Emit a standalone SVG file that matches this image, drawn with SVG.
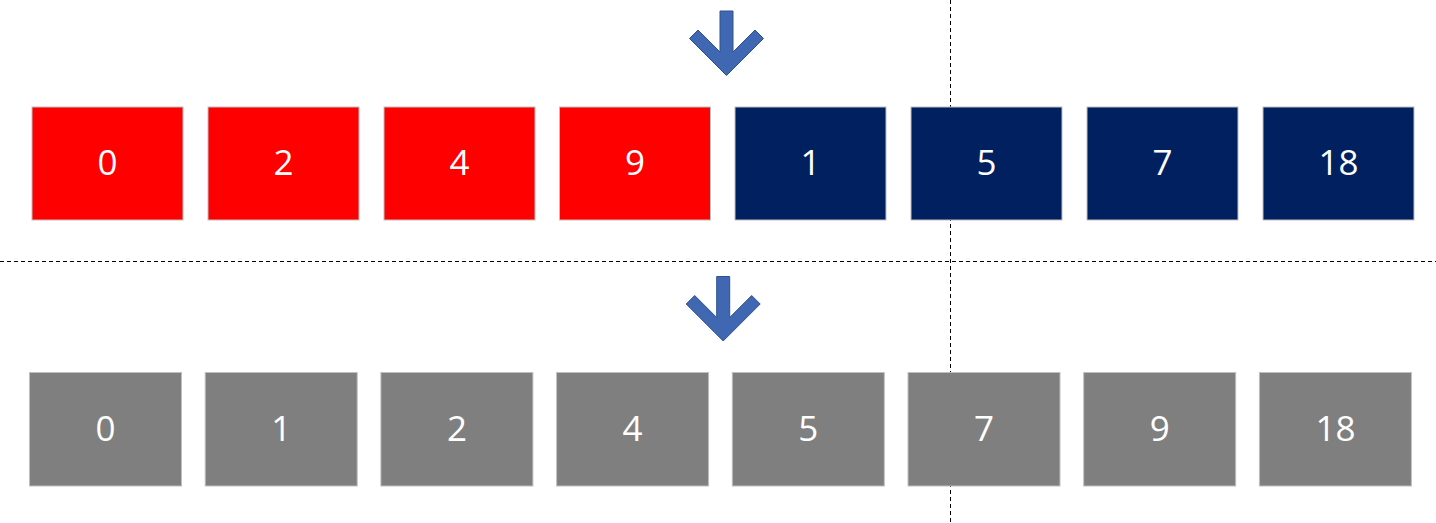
<svg xmlns="http://www.w3.org/2000/svg" width="1436" height="523" viewBox="0 0 1436 523">
<defs>
<style>
.dash{stroke:#000;stroke-width:1;stroke-dasharray:4 3;fill:none}
.box{stroke:#BFBFBF;stroke-width:1}
.red{fill:#FF0000}
.navy{fill:#002060}
.gray{fill:#7F7F7F}
.lbl{font-family:"Open Sans","Liberation Sans",sans-serif;font-size:35px;fill:#FFFFFF;text-anchor:middle}
.arrow{fill:#4068B2;stroke:#2F528F;stroke-width:1}
</style>
<polygon id="down" points="720,11 733,11 733,52 755,30 763.5,38.5 726.5,75.5 689.5,38.5 698,30 720,52"/>
</defs>
<g id="connectors">
<line class="dash" x1="0" y1="261.5" x2="1436" y2="261.5"/>
<line class="dash" x1="950.5" y1="0" x2="950.5" y2="523"/>
<use href="#down" class="arrow"/>
<use href="#down" class="arrow" transform="translate(-3.3,265.5)"/>
</g>
<g id="top-0"><rect class="box red" x="32" y="107" width="151" height="113"/><text class="lbl" x="107.5" y="175">0</text></g>
<g id="top-1"><rect class="box red" x="208" y="107" width="151" height="113"/><text class="lbl" x="283.5" y="175">2</text></g>
<g id="top-2"><rect class="box red" x="384" y="107" width="151" height="113"/><text class="lbl" x="459.5" y="175">4</text></g>
<g id="top-3"><rect class="box red" x="559.5" y="107" width="151" height="113"/><text class="lbl" x="635" y="175">9</text></g>
<g id="top-4"><rect class="box navy" x="735" y="107" width="151" height="113"/><text class="lbl" x="810.5" y="175">1</text></g>
<g id="top-5"><rect class="box navy" x="911" y="107" width="151" height="113"/><text class="lbl" x="986.5" y="175">5</text></g>
<g id="top-6"><rect class="box navy" x="1087" y="107" width="151" height="113"/><text class="lbl" x="1162.5" y="175">7</text></g>
<g id="top-7"><rect class="box navy" x="1263" y="107" width="151" height="113"/><text class="lbl" x="1338.5" y="175">18</text></g>
<g id="bot-0"><rect class="box gray" x="29.5" y="372.5" width="152" height="113.5"/><text class="lbl" x="105.5" y="441">0</text></g>
<g id="bot-1"><rect class="box gray" x="205.2" y="372.5" width="152" height="113.5"/><text class="lbl" x="281.2" y="441">1</text></g>
<g id="bot-2"><rect class="box gray" x="380.9" y="372.5" width="152" height="113.5"/><text class="lbl" x="456.9" y="441">2</text></g>
<g id="bot-3"><rect class="box gray" x="556.6" y="372.5" width="152" height="113.5"/><text class="lbl" x="632.6" y="441">4</text></g>
<g id="bot-4"><rect class="box gray" x="732.3" y="372.5" width="152" height="113.5"/><text class="lbl" x="808.3" y="441">5</text></g>
<g id="bot-5"><rect class="box gray" x="908" y="372.5" width="152" height="113.5"/><text class="lbl" x="984" y="441">7</text></g>
<g id="bot-6"><rect class="box gray" x="1083.7" y="372.5" width="152" height="113.5"/><text class="lbl" x="1159.7" y="441">9</text></g>
<g id="bot-7"><rect class="box gray" x="1259.4" y="372.5" width="152" height="113.5"/><text class="lbl" x="1335.4" y="441">18</text></g>
</svg>
